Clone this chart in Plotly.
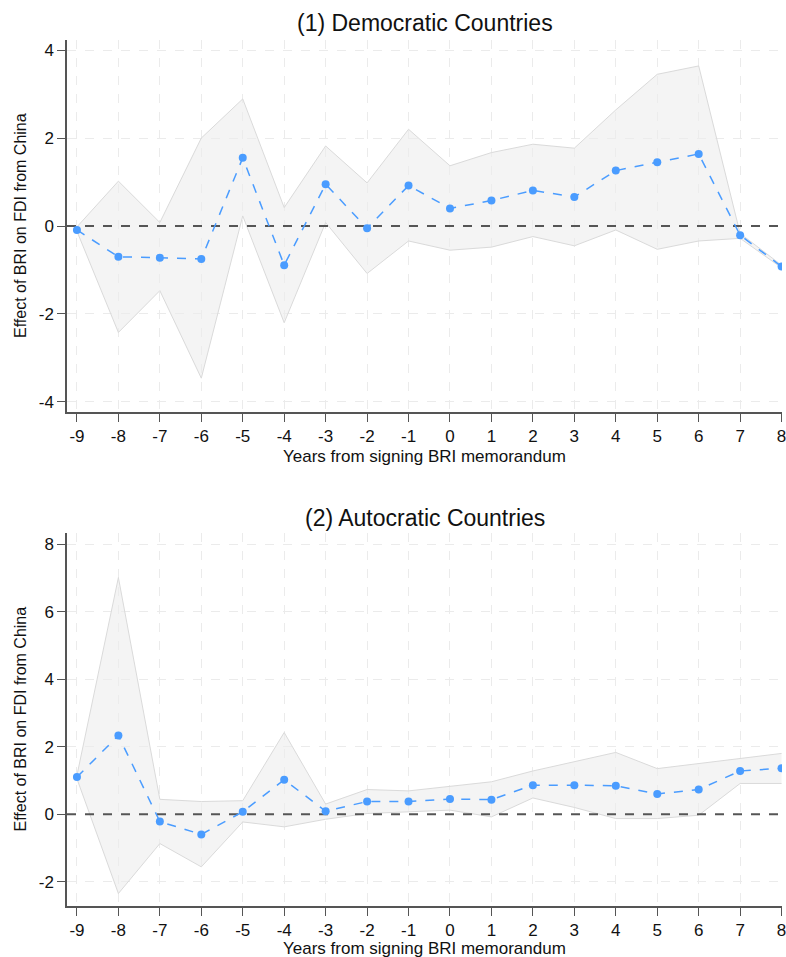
import plotly.graph_objects as go
from plotly.subplots import make_subplots

years = [-9, -8, -7, -6, -5, -4, -3, -2, -1, 0, 1, 2, 3, 4, 5, 6, 7, 8]

dem_est = [-0.09, -0.70, -0.72, -0.75, 1.55, -0.89, 0.95, -0.05, 0.92, 0.40, 0.58, 0.81, 0.66, 1.26, 1.45, 1.64, -0.21, -0.92]
dem_hi = [-0.02, 1.02, 0.08, 2.00, 2.89, 0.42, 1.82, 0.98, 2.20, 1.37, 1.67, 1.86, 1.77, 2.64, 3.45, 3.64, -0.17, -0.89]
dem_lo = [-0.12, -2.42, -1.47, -3.46, 0.23, -2.20, 0.08, -1.08, -0.34, -0.55, -0.48, -0.24, -0.45, -0.09, -0.53, -0.34, -0.28, -0.95]

aut_est = [1.10, 2.33, -0.22, -0.60, 0.07, 1.02, 0.09, 0.375, 0.375, 0.45, 0.43, 0.86, 0.86, 0.84, 0.60, 0.73, 1.28, 1.36]
aut_hi = [1.15, 7.01, 0.44, 0.375, 0.40, 2.42, 0.30, 0.73, 0.69, 0.83, 0.96, 1.28, 1.55, 1.83, 1.35, 1.50, 1.67, 1.80]
aut_lo = [1.05, -2.35, -0.87, -1.56, -0.23, -0.375, -0.15, 0.02, 0.07, 0.12, -0.08, 0.48, 0.20, -0.13, -0.13, -0.03, 0.91, 0.91]

titles = ["(1) Democratic Countries", "(2) Autocratic Countries"]
x_title = "Years from signing BRI memorandum"
y_title = "Effect of BRI on FDI from China"
x_range = [-9.24, 8.01]
y_ranges = [[-4.23, 4.23], [-2.72, 8.33]]
y_ticks = [[-4, -2, 0, 2, 4], [-2, 0, 2, 4, 6, 8]]

FONT = "Arial, 'Liberation Sans', sans-serif"
BLUE = "#4a9cff"

fig = make_subplots(rows=2, cols=1)

panels = [(dem_est, dem_hi, dem_lo), (aut_est, aut_hi, aut_lo)]
for i, (est, hi, lo) in enumerate(panels, start=1):
    fig.add_trace(go.Scatter(x=years, y=hi, mode="lines",
                             line=dict(color="#dadada", width=1),
                             showlegend=False, hoverinfo="skip"), row=i, col=1)
    fig.add_trace(go.Scatter(x=years, y=lo, mode="lines", fill="tonexty",
                             fillcolor="rgba(236,236,236,0.6)",
                             line=dict(color="#dadada", width=1),
                             showlegend=False, hoverinfo="skip"), row=i, col=1)
    fig.add_trace(go.Scatter(x=x_range, y=[0, 0], mode="lines",
                             line=dict(color="#555555", width=2, dash="dash"),
                             showlegend=False, hoverinfo="skip"), row=i, col=1)
    fig.add_trace(go.Scatter(x=years, y=est, mode="lines+markers",
                             line=dict(color=BLUE, width=1.5, dash="dash"),
                             marker=dict(color=BLUE, size=8),
                             showlegend=False), row=i, col=1)

axis_common = dict(showline=True, linecolor="#555555", linewidth=1.5,
                   ticks="outside", ticklen=8, tickcolor="#555555", tickwidth=1,
                   showgrid=True, gridcolor="#ebebeb", griddash="dash", gridwidth=1,
                   zeroline=False, tickfont=dict(family=FONT, size=17, color="#111111"),
                   mirror=False, automargin=False, ticklabeloverflow="allow")

domains = [[0.5704, 1.0], [0.0, 0.4307]]
for i in range(2):
    xa = "xaxis" if i == 0 else "xaxis2"
    ya = "yaxis" if i == 0 else "yaxis2"
    fig.update_layout(**{
        xa: dict(axis_common, range=x_range, tickmode="array", tickvals=years,
                 ticktext=[str(v) for v in years]),
        ya: dict(axis_common, range=y_ranges[i], tickmode="array", tickvals=y_ticks[i],
                 ticktext=[str(v) for v in y_ticks[i]], domain=domains[i]),
    })

title_y = [1.0196, 0.448]
xtitle_y = [0.5196, -0.0485]
ytitle_y = [sum(d) / 2 for d in domains]
for i in range(2):
    fig.add_annotation(text=titles[i], xref="paper", yref="paper", x=0.5, y=title_y[i],
                       xanchor="center", yanchor="middle", showarrow=False,
                       font=dict(family=FONT, size=23, color="#111111"))
    fig.add_annotation(text=x_title, xref="paper", yref="paper", x=0.5, y=xtitle_y[i],
                       xanchor="center", yanchor="middle", showarrow=False,
                       font=dict(family=FONT, size=17, color="#111111"))
    fig.add_annotation(text=y_title, xref="paper", yref="paper", x=-0.0657, y=ytitle_y[i],
                       xanchor="center", yanchor="middle", showarrow=False, textangle=-90,
                       font=dict(family=FONT, size=16, color="#111111"))

fig.update_layout(width=786, height=957, margin=dict(l=67, r=4, t=40, b=51),
                  plot_bgcolor="white", paper_bgcolor="white")

fig.write_html("out.html")
